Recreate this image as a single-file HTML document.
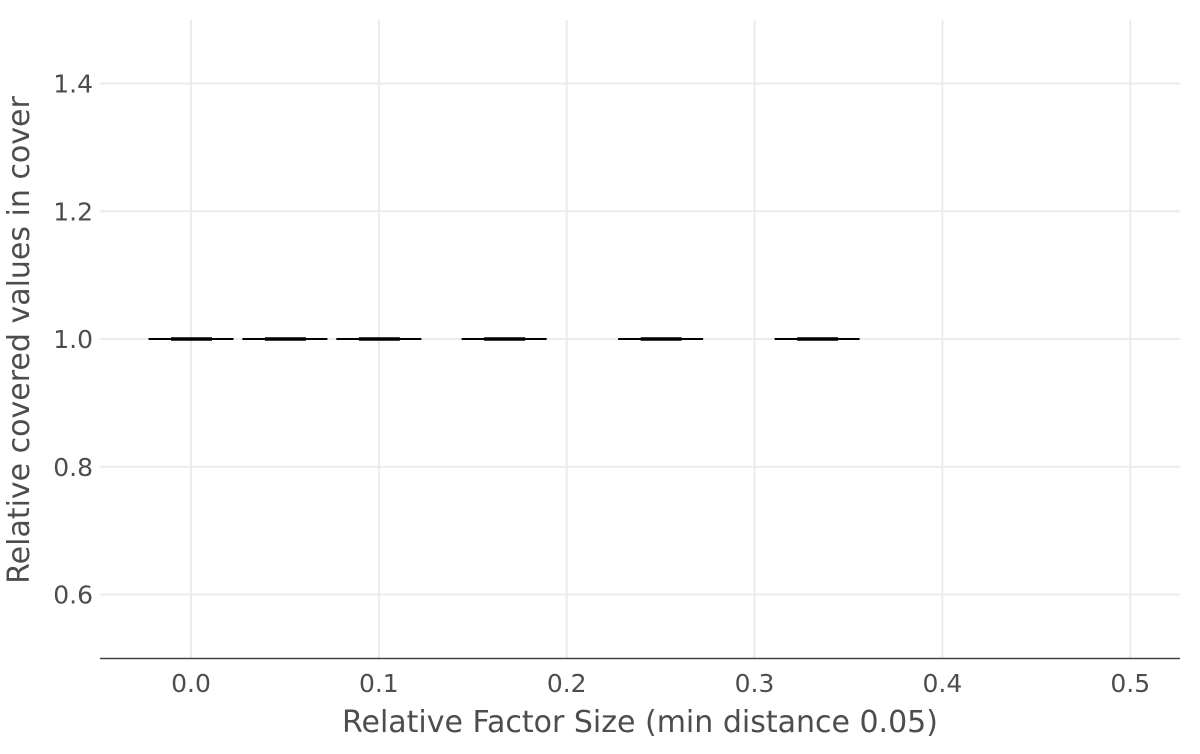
<!DOCTYPE html>
<html><head><meta charset="utf-8"><style>
body{margin:0;background:#fff;font-family:"DejaVu Sans","Liberation Sans",sans-serif;}
</style></head><body>
<svg width="1200" height="750" xmlns="http://www.w3.org/2000/svg">
<g id="grid"></g>
<g id="marks"></g>
<line x1="100" y1="658.5" x2="1180" y2="658.5" stroke="#444" stroke-width="1.5"/>
<g id="ticks"></g>
<text x="640" y="732" text-anchor="middle" font-size="30" fill="#4d4d4d">Relative Factor Size (min distance 0.05)</text>
<text transform="translate(29,340) rotate(-90)" text-anchor="middle" font-size="30" fill="#4d4d4d">Relative covered values in cover</text>
</svg>
<script>
const xTicks=[0.0,0.1,0.2,0.3,0.4,0.5];
const yTicks=[0.6,0.8,1.0,1.2,1.4];
const categories=[0.0,0.05,0.1,0.1667,0.25,0.3333];
const values=[1.0,1.0,1.0,1.0,1.0,1.0];
const X=v=>191+v*1878.5;
const Y=v=>339-(v-1.0)*638.75;
const ns="http://www.w3.org/2000/svg";
function mk(t,a,p){const e=document.createElementNS(ns,t);for(const k in a)e.setAttribute(k,a[k]);p.appendChild(e);return e;}
const grid=document.getElementById('grid'),ticks=document.getElementById('ticks'),marks=document.getElementById('marks');
xTicks.forEach(v=>{const l=mk('line',{x1:X(v),x2:X(v),y1:20,y2:658,stroke:'#ebebeb','stroke-width':2},grid);


const t=mk('text',{x:X(v),y:692,'text-anchor':'middle','font-size':25,fill:'#4d4d4d'},ticks);t.textContent=v.toFixed(1);

});
yTicks.forEach(v=>{const l=mk('line',{x1:100,x2:1180,y1:Y(v),y2:Y(v),stroke:'#ebebeb','stroke-width':2},grid);


const t=mk('text',{x:93,y:Y(v)+9,'text-anchor':'end','font-size':25,fill:'#4d4d4d'},ticks);t.textContent=v.toFixed(1);

});
categories.forEach((c,i)=>{const cx=X(c),y=Y(values[i]),hw=42.5;
const b=mk('line',{x1:cx-hw,x2:cx+hw,y1:y,y2:y,stroke:'#000','stroke-width':2},marks);


const m=mk('line',{x1:cx-20,x2:cx+21,y1:y,y2:y,stroke:'#000','stroke-width':3.5},marks);

});
</script>
</body></html>
